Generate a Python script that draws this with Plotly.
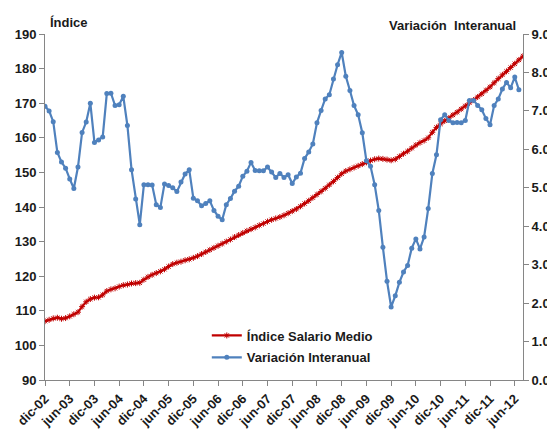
import plotly.graph_objects as go

# Month index 0 = dic-02, monthly
tick_labels = ['dic-02', 'jun-03', 'dic-03', 'jun-04', 'dic-04', 'jun-05', 'dic-05',
               'jun-06', 'dic-06', 'jun-07', 'dic-07', 'jun-08', 'dic-08', 'jun-09',
               'dic-09', 'jun-10', 'dic-10', 'jun-11', 'dic-11', 'jun-12']

indice_salario = [
    107.0, 107.4, 107.8, 108.0, 107.7, 107.9, 108.4, 109.0, 109.6, 111.2,
    112.6, 113.4, 113.8, 113.9, 114.6, 115.7, 116.2, 116.5, 117.0, 117.4,
    117.6, 117.9, 118.0, 118.1, 119.0, 119.8, 120.4, 120.9, 121.4, 122.0,
    122.8, 123.5, 123.9, 124.2, 124.6, 124.9, 125.3, 125.8, 126.4, 127.0,
    127.6, 128.2, 128.8, 129.4, 130.0, 130.6, 131.3, 131.9, 132.5, 133.1,
    133.6, 134.1, 134.7, 135.2, 135.8, 136.3, 136.7, 137.1, 137.6, 138.2,
    138.8, 139.4, 140.2, 141.0, 141.8, 142.7, 143.6, 144.5, 145.4, 146.4,
    147.4, 148.5, 149.6, 150.4, 150.9, 151.4, 151.9, 152.4, 152.9, 153.4,
    153.8, 154.0, 153.9, 153.7, 153.5, 153.8, 154.6, 155.4, 156.1, 157.0,
    157.9, 158.6, 159.2, 160.0, 161.6, 163.0, 164.0, 164.9, 165.7, 166.6,
    167.4, 168.3, 169.2, 170.1, 170.9, 171.8, 172.7, 173.7, 174.7, 175.9,
    177.1, 178.2, 179.2, 180.3, 181.4, 182.5, 183.6,
]

variacion_interanual = [
    7.12, 7.00, 6.72, 5.92, 5.67, 5.51, 5.23, 4.98, 5.54, 6.44,
    6.71, 7.20, 6.18, 6.24, 6.32, 7.45, 7.46, 7.14, 7.16, 7.38,
    6.62, 5.47, 4.71, 4.04, 5.08, 5.08, 5.07, 4.56, 4.49, 5.10,
    5.06, 5.00, 4.90, 5.15, 5.36, 5.47, 4.73, 4.66, 4.53, 4.59,
    4.66, 4.41, 4.26, 4.17, 4.56, 4.72, 4.91, 5.04, 5.30, 5.43,
    5.66, 5.45, 5.44, 5.44, 5.54, 5.41, 5.27, 5.37, 5.27, 5.34,
    5.11, 5.28, 5.38, 5.76, 5.93, 6.14, 6.69, 7.01, 7.31, 7.42,
    7.83, 8.20, 8.52, 7.90, 7.53, 7.14, 6.90, 6.43, 5.70, 5.56,
    5.08, 4.41, 3.45, 2.57, 1.90, 2.19, 2.54, 2.81, 2.98, 3.43,
    3.67, 3.41, 3.72, 4.46, 5.37, 5.86, 6.77, 6.90, 6.75, 6.69,
    6.70, 6.69, 6.75, 7.27, 7.27, 7.14, 7.03, 6.80, 6.64, 7.14,
    7.31, 7.57, 7.74, 7.60, 7.88, 7.55,
]

x_red = list(range(len(indice_salario)))
x_blue = list(range(len(variacion_interanual)))
tick_vals = [6 * k for k in range(len(tick_labels))]

FONT = "Liberation Sans, Arial, sans-serif"
AXIS_GRAY = "#868686"
TXT = "#1a1a1a"
BOLD13 = dict(family=FONT, size=13, color=TXT, weight="bold")

fig = go.Figure()

fig.add_trace(go.Scatter(
    x=x_red, y=indice_salario, name="Índice Salario Medio",
    mode="lines+markers", legendgroup="a",
    line=dict(color="#C00000", width=2.2),
    marker=dict(symbol="asterisk-open", size=5,
                line=dict(color="rgba(235,90,90,0.85)", width=1)),
    yaxis="y",
))

fig.add_trace(go.Scatter(
    x=x_blue, y=variacion_interanual, name="Variación Interanual",
    mode="lines+markers", legendgroup="b",
    line=dict(color="#4F81BD", width=2.2),
    marker=dict(symbol="circle", size=5, color="#4F81BD"),
    yaxis="y2",
))

# page body adds an 8px offset; size the figure so the plot lands where the reference has it
fig.update_layout(
    width=547, height=424,
    margin=dict(l=37, r=32, t=26, b=52),
    paper_bgcolor="white", plot_bgcolor="white",
    font=dict(family=FONT, size=12, color=TXT),
    showlegend=True,
    legend=dict(x=0.3385, y=0.172, xanchor="left", yanchor="top",
                bgcolor="rgba(0,0,0,0)",
                font=BOLD13, tracegroupgap=2,
                itemwidth=30),
    xaxis=dict(
        range=[0, len(indice_salario) - 1],
        tickmode="array", tickvals=tick_vals, ticktext=tick_labels,
        tickangle=-45, automargin=False,
        tickfont=BOLD13,
        showline=True, linecolor=AXIS_GRAY, linewidth=1,
        ticks="outside", ticklen=5, tickcolor=AXIS_GRAY,
        showgrid=False, zeroline=False,
    ),
    yaxis=dict(
        range=[90, 190], dtick=10, tick0=90, automargin=False,
        tickfont=BOLD13,
        showline=True, linecolor=AXIS_GRAY, linewidth=1,
        ticks="outside", ticklen=5, tickcolor=AXIS_GRAY,
        showgrid=False, zeroline=False,
    ),
    yaxis2=dict(
        range=[0, 9], dtick=1, tick0=0, tickformat=".1f",
        overlaying="y", side="right", automargin=False,
        tickfont=BOLD13,
        showline=True, linecolor=AXIS_GRAY, linewidth=1,
        ticks="outside", ticklen=5, tickcolor=AXIS_GRAY,
        showgrid=False, zeroline=False,
    ),
    annotations=[
        dict(text="Índice", xref="paper", yref="paper", x=0.006, y=1.032,
             xanchor="left", yanchor="middle", showarrow=False,
             font=BOLD13),
        dict(text="Variación  Interanual", xref="paper", yref="paper",
             x=0.989, y=1.026, xanchor="right", yanchor="middle",
             showarrow=False, font=BOLD13),
    ],
)

fig.write_html("out.html")
